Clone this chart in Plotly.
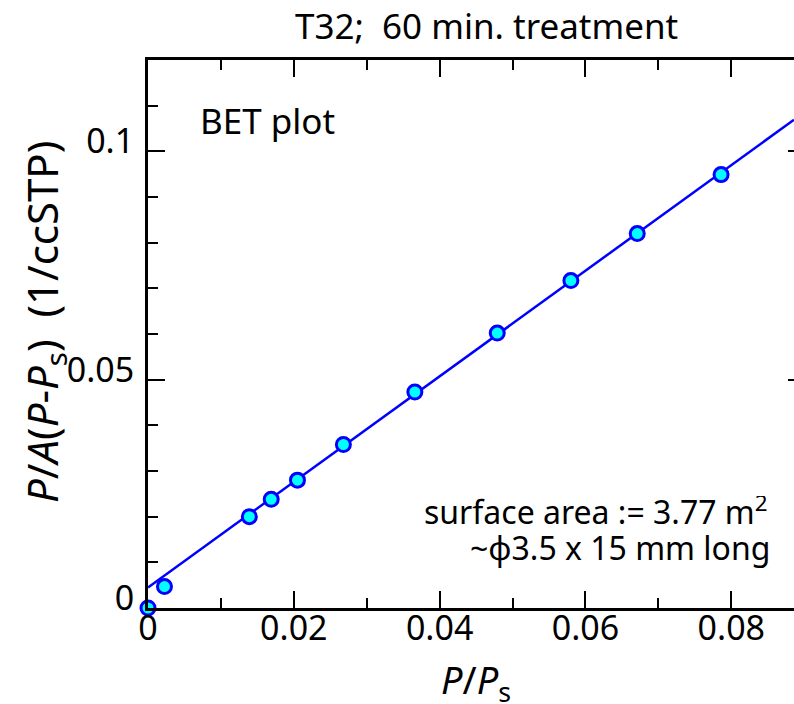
import plotly.graph_objects as go

# data
pp_s = [0.0, 0.00226, 0.0139, 0.0169, 0.0205, 0.0268, 0.0366, 0.0479, 0.0580, 0.0671, 0.0786]
bet_y = [0.0, 0.0047, 0.0200, 0.0238, 0.0280, 0.0358, 0.0473, 0.0602, 0.0717, 0.0820, 0.0949]
fit_intercept = 0.0045
fit_slope = 1.156
fit_x = [0.0, 0.0886]
fit_y = [fit_intercept + fit_slope * v for v in fit_x]

x_tickvals = [0, 0.02, 0.04, 0.06, 0.08]
x_ticktext = ["0", "0.02", "0.04", "0.06", "0.08"]
y_tickvals = [0, 0.05, 0.1]
y_ticktext = ["0", "0.05", "0.1"]

FONT = "Noto Sans"
W, H = 794, 704
L, T, B = 148, 60, 96
pw = W - L
ph = H - T - B


def px(xp):
    return (xp - L) / pw


def py(yp):
    return (H - B - yp) / ph


fig = go.Figure()
fig.add_trace(go.Scatter(x=fit_x, y=fit_y, mode="lines",
                         line=dict(color="#0000ff", width=2.5),
                         showlegend=False, hoverinfo="skip"))
fig.add_trace(go.Scatter(x=pp_s, y=bet_y, mode="markers", cliponaxis=False,
                         marker=dict(size=14, color="#00ffff",
                                     line=dict(color="#0000ff", width=3)),
                         showlegend=False))
fig.add_trace(go.Scatter(x=[0], y=[0], yaxis="y2", mode="markers",
                         marker=dict(opacity=0), showlegend=False, hoverinfo="skip"))

fig.update_layout(
    width=W, height=H,
    margin=dict(l=L, r=0, t=T, b=B),
    paper_bgcolor="white", plot_bgcolor="white",
    font=dict(family=FONT, size=34, color="black"),
    xaxis=dict(range=[0, 0.0886], tickvals=x_tickvals, ticktext=x_ticktext,
               ticks="inside", ticklen=17, tickwidth=2, tickcolor="black",
               minor=dict(dtick=0.01, tick0=0, ticks="inside", ticklen=10, tickwidth=2, tickcolor="black"),
               showline=True, linewidth=2.5, linecolor="black", mirror="ticks",
               showgrid=False, zeroline=False, ticklabelstandoff=-12,
               tickfont=dict(size=34)),
    yaxis=dict(range=[0, 0.12], tickvals=y_tickvals, ticktext=y_ticktext,
               ticks="inside", ticklen=17, tickwidth=2, tickcolor="black",
               minor=dict(dtick=0.01, tick0=0, ticks="inside", ticklen=10, tickwidth=2, tickcolor="black"),
               showline=True, linewidth=3, linecolor="black", mirror=False,
               showgrid=False, zeroline=False, ticklabelstandoff=4,
               ticklabelshift=-10, tickfont=dict(size=34)),
    yaxis2=dict(range=[0, 0.12], overlaying="y", side="right", anchor="x",
                tickvals=y_tickvals, ticks="inside", ticklen=6, tickwidth=2,
                tickcolor="black", showticklabels=False, showline=False,
                showgrid=False, zeroline=False),
)

ann = [
    dict(text="T32;  60 min. treatment", x=px(486), y=py(25), xanchor="center", size=35, h=None),
    dict(text="BET plot", x=px(198), y=py(121), xanchor="left", size=35, h=None),
    dict(text="surface area := 3.77 m<sup>2</sup>", x=px(770), y=py(510), xanchor="right", size=32, h=28),
    dict(text="~φ3.5 x 15 mm long", x=px(772), y=py(547), xanchor="right", size=32, h=None),
    dict(text="<i>P</i>/<i>P</i><sub>s</sub>", x=px(476), y=py(681), xanchor="center", size=38, h=None),
]
for a in ann:
    kw = {}
    if a["h"]:
        kw["height"] = a["h"]
    fig.add_annotation(text=a["text"], x=a["x"], y=a["y"], xref="paper", yref="paper",
                       xanchor=a["xanchor"], yanchor="middle", showarrow=False,
                       font=dict(family=FONT, size=a["size"], color="black"), **kw)

fig.add_annotation(text="<i>P</i>/<i>A</i>(<i>P</i>-<i>P</i><sub>s</sub>)\u00a0\u00a0(1/ccSTP)",
                   x=px(44), y=py(322), xref="paper", yref="paper", textangle=-90,
                   xanchor="center", yanchor="middle", showarrow=False,
                   font=dict(family=FONT, size=42, color="black"))

fig.write_html("out.html")
